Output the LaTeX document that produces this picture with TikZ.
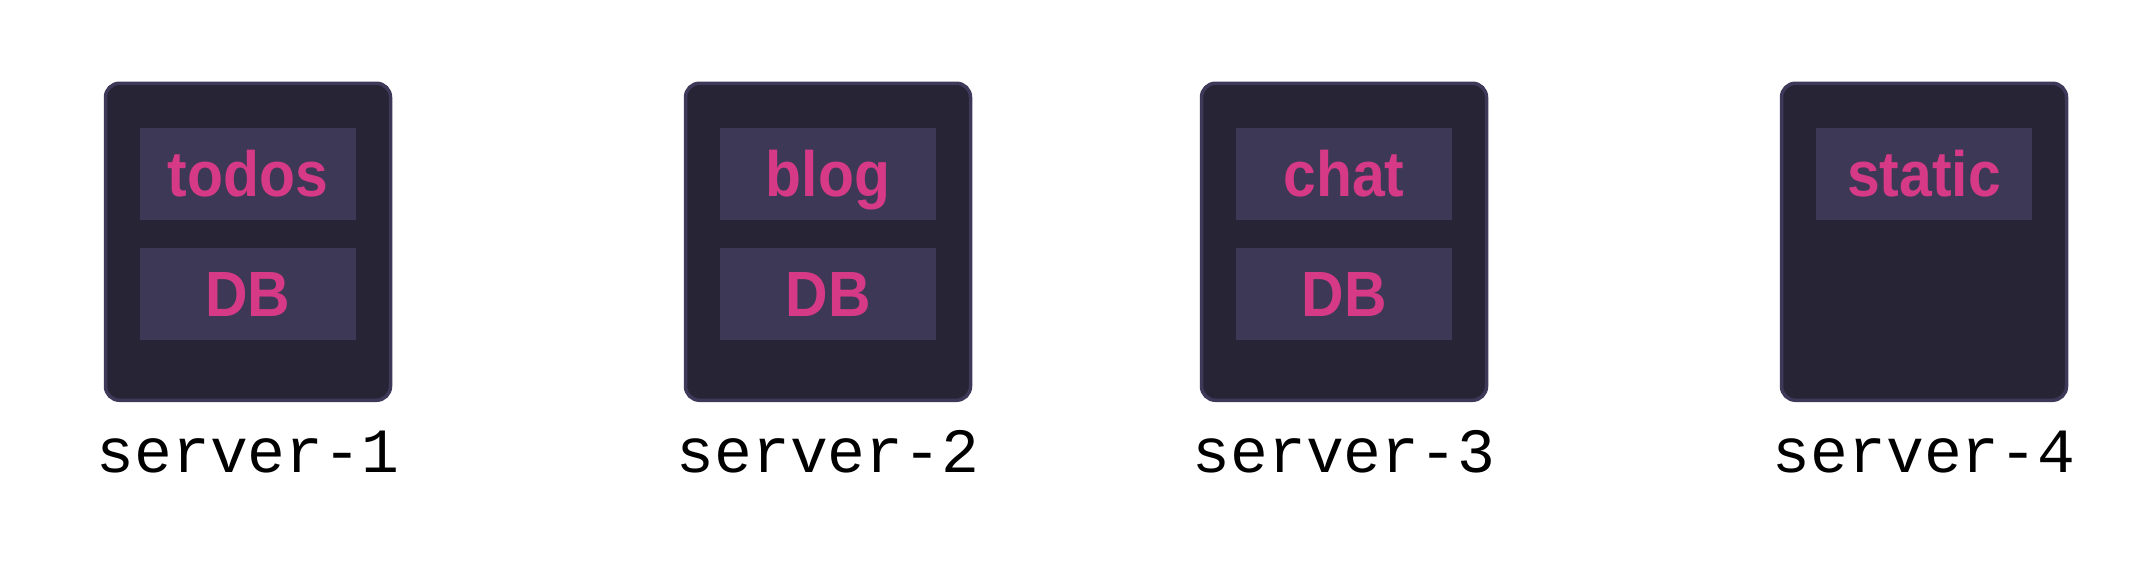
\documentclass[tikz,border=0pt]{standalone}
\usepackage{fontspec}
\newfontfamily\pinkfont{Liberation Sans}[UprightFont=* Bold, FakeStretch=0.92]
\newfontfamily\labelfont{Liberation Mono}
\definecolor{srvfill}{HTML}{272435}
\definecolor{srvedge}{HTML}{3E3959}
\definecolor{appfill}{HTML}{3D3856}
\definecolor{apptext}{HTML}{D63A86}
\tikzset{
  x=1pt,y=-1pt,
  server/.style={draw=srvedge, fill=srvfill, line width=3.5pt, rounded corners=14pt, minimum width=285pt, minimum height=317pt, inner sep=0pt, anchor=north},
  app/.style={fill=appfill, minimum width=216pt, minimum height=92pt, inner sep=0pt, anchor=north},
  apptxt/.style={text=apptext, font=\pinkfont\fontsize{64}{64}\selectfont, anchor=base, inner sep=0pt},
  srvlabel/.style={font=\labelfont\fontsize{63}{63}\selectfont, text=black, anchor=base, inner sep=0pt},
}
\begin{document}
\begin{tikzpicture}
\useasboundingbox[fill=white] (0,0) rectangle (2140,576);
% server 1
\node[server] (s1) at (248,81.5) {};
\node[app] (s1a) at (248,128) {};
\node[app] (s1b) at (248,248) {};
\node[apptxt] (s1at) at (248,196) {todos};
\node[apptxt] (s1bt) at (248,316) {DB};
\node[srvlabel] (s1l) at (248,472) {server-1};
% server 2
\node[server] (s2) at (828,81.5) {};
\node[app] (s2a) at (828,128) {};
\node[app] (s2b) at (828,248) {};
\node[apptxt] (s2at) at (828,196) {blog};
\node[apptxt] (s2bt) at (828,316) {DB};
\node[srvlabel] (s2l) at (828,472) {server-2};
% server 3
\node[server] (s3) at (1344,81.5) {};
\node[app] (s3a) at (1344,128) {};
\node[app] (s3b) at (1344,248) {};
\node[apptxt] (s3at) at (1344,196) {chat};
\node[apptxt] (s3bt) at (1344,316) {DB};
\node[srvlabel] (s3l) at (1344,472) {server-3};
% server 4
\node[server] (s4) at (1924,81.5) {};
\node[app] (s4a) at (1924,128) {};
\node[apptxt] (s4at) at (1924,196) {static};
\node[srvlabel] (s4l) at (1924,472) {server-4};
\end{tikzpicture}
\end{document}
